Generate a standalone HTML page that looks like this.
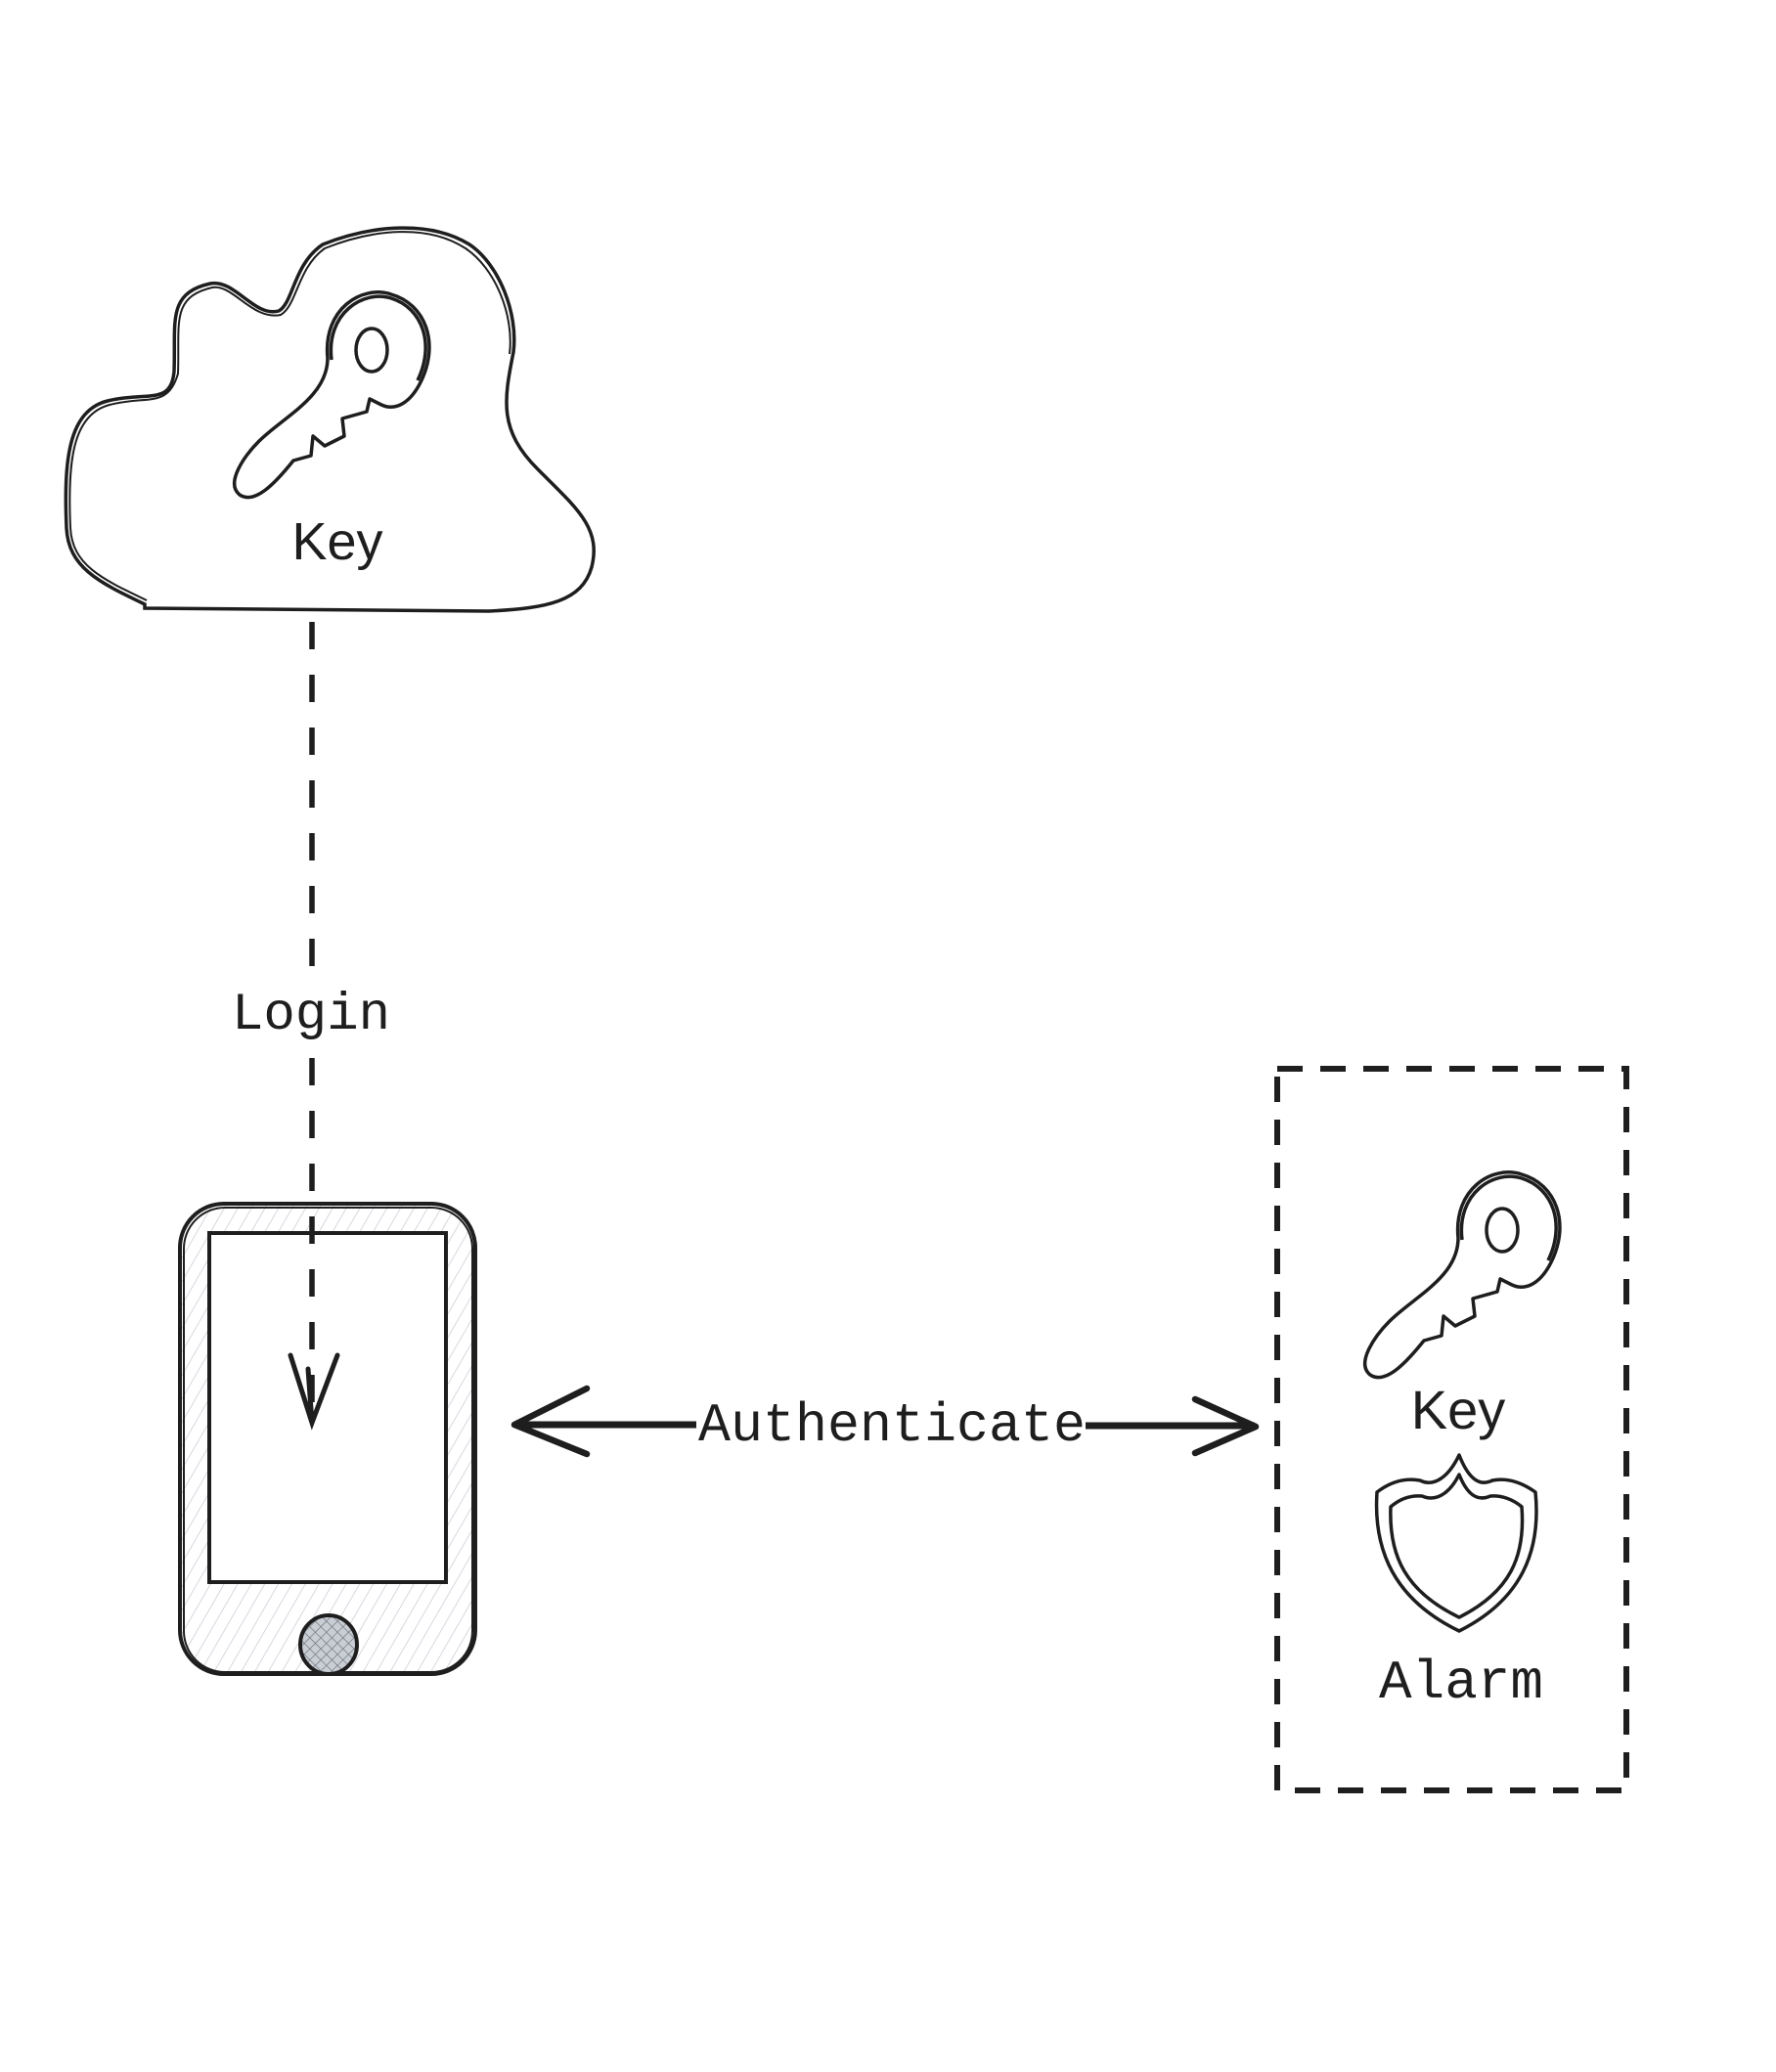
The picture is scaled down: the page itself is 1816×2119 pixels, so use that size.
<!DOCTYPE html>
<html><head><meta charset="utf-8"><style>
html,body{margin:0;padding:0;background:#fff;}
svg{display:block;}
text{fill:#1e1e1e;}
</style></head><body>
<svg width="1816" height="2119" viewBox="0 0 1816 2119" xmlns="http://www.w3.org/2000/svg">
<defs>
<pattern id="hatch" width="12" height="12" patternUnits="userSpaceOnUse" patternTransform="rotate(30)">
<line x1="0" y1="0" x2="0" y2="12" stroke="#c7ccd3" stroke-width="1.5"/>
</pattern>
<pattern id="xh" width="8" height="8" patternUnits="userSpaceOnUse" patternTransform="rotate(45)">
<rect width="8" height="8" fill="#c9ced4"/>
<line x1="0" y1="0" x2="0" y2="8" stroke="#6b7078" stroke-width="1.3"/>
<line x1="0" y1="0" x2="8" y2="0" stroke="#6b7078" stroke-width="1.3"/>
</pattern>
<g id="key" fill="none" stroke="#1e1e1e" stroke-width="3.5" stroke-linejoin="round">
<path d="M -45,0 C -50,-50 -10,-75 20,-65 C 55,-55 70,-15 50,25 C 40,45 25,55 10,48 L -2,42 L -5,55 L -30,62 L -28,80 L -48,90 L -60,80 L -62,100 L -80,105 C -100,130 -120,150 -135,140 C -150,128 -130,100 -115,85 C -90,60 -45,40 -45,0 Z"/>
<path d="M -41,2 C -47,-46 -8,-70 20,-61 C 52,-51 65,-14 47,23" />
<ellipse cx="0" cy="-8" rx="16" ry="22"/>
</g>
</defs>

<!-- cloud -->
<g fill="none" stroke="#1e1e1e" stroke-width="3.5">
<path d="M148,618 C100,595 70,580 68,540 C65,470 70,420 110,410 C150,400 175,415 178,380 C180,330 170,300 215,290 C240,285 260,325 285,318 C300,310 300,270 330,250 C380,230 440,225 480,250 C510,270 530,320 525,360 C515,410 510,440 550,480 C590,520 615,540 605,580 C595,615 560,622 500,625 L148,622 Z"/>
<path d="M150,614 C104,592 74,578 72,540 C69,472 74,424 112,414 C150,404 172,418 182,382 C184,332 174,304 217,294 C238,290 258,328 287,322 C304,312 304,274 332,254 C382,234 438,229 476,254 C506,274 526,322 521,362" stroke-width="2"/>
</g>
<use href="#key" transform="translate(380,366)"/>
<text x="345" y="572" font-family="Liberation Sans, sans-serif" font-size="54" text-anchor="middle">Key</text>

<!-- phone -->
<rect x="184" y="1231" width="302" height="481" rx="45" fill="url(#hatch)" stroke="#1e1e1e" stroke-width="4"/>
<rect x="188" y="1235" width="295" height="475" rx="42" fill="none" stroke="#1e1e1e" stroke-width="2"/>
<rect x="214" y="1261" width="242" height="357" fill="#fff" stroke="#1e1e1e" stroke-width="4"/>
<ellipse cx="336" cy="1682" rx="29" ry="30" fill="url(#xh)" stroke="#1e1e1e" stroke-width="4"/>

<!-- dashed login connector -->
<line x1="319" y1="636" x2="319" y2="1010" stroke="#1e1e1e" stroke-width="5.5" stroke-dasharray="28,26"/>
<line x1="319" y1="1082" x2="319" y2="1434" stroke="#1e1e1e" stroke-width="5.5" stroke-dasharray="28,26"/>
<text x="318" y="1052" font-family="Liberation Mono, monospace" font-size="54" text-anchor="middle">Login</text>

<!-- login arrowhead -->
<path d="M297,1386 L319,1455 L345,1386 M315,1400 L319,1455" fill="none" stroke="#1e1e1e" stroke-width="5" stroke-linecap="round"/>

<!-- authenticate arrow -->
<line x1="526" y1="1457" x2="712" y2="1457" stroke="#1e1e1e" stroke-width="7"/>
<line x1="1110" y1="1458" x2="1283" y2="1458" stroke="#1e1e1e" stroke-width="7"/>
<path d="M600,1420 L526,1457 L600,1487" fill="none" stroke="#1e1e1e" stroke-width="6.5" stroke-linecap="round" stroke-linejoin="round"/>
<path d="M1222,1431 L1284,1459 L1222,1486" fill="none" stroke="#1e1e1e" stroke-width="6.5" stroke-linecap="round" stroke-linejoin="round"/>
<text x="912" y="1473" font-family="Liberation Mono, monospace" font-size="56" text-anchor="middle" textLength="396" lengthAdjust="spacingAndGlyphs">Authenticate</text>

<!-- dashed box -->
<rect x="1306" y="1093" width="357" height="738" fill="none" stroke="#1e1e1e" stroke-width="6" stroke-dasharray="26,18"/>
<use href="#key" transform="translate(1536,1266)"/>
<text x="1491" y="1461" font-family="Liberation Sans, sans-serif" font-size="56" text-anchor="middle">Key</text>

<!-- shield -->
<g fill="none" stroke="#1e1e1e" stroke-width="3.5" stroke-linejoin="round" transform="translate(-14,-14)">
<path d="M1506,1502 C1495,1525 1480,1535 1466,1528 C1450,1525 1435,1530 1422,1540 C1418,1600 1440,1650 1506,1682 C1570,1650 1590,1600 1584,1540 C1570,1530 1555,1525 1540,1528 C1526,1535 1515,1525 1506,1502 Z"/>
<path d="M1506,1522 C1496,1542 1482,1550 1468,1544 C1455,1543 1444,1548 1436,1555 C1434,1606 1452,1642 1506,1668 C1558,1642 1574,1606 1570,1555 C1562,1548 1550,1543 1538,1544 C1524,1550 1514,1542 1506,1522 Z"/>
</g>
<text x="1494" y="1736" font-family="Liberation Mono, monospace" font-size="56" text-anchor="middle">Alarm</text>
</svg>
</body></html>
